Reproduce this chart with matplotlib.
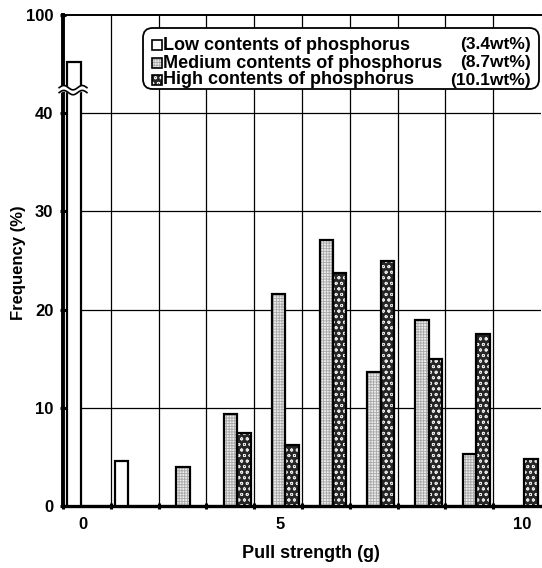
import numpy as np
import matplotlib
matplotlib.use("Agg")
import matplotlib.pyplot as plt
from matplotlib.patches import FancyBboxPatch, Rectangle

# pull strength bins (category index) and frequencies (%)
bins = np.arange(10)
low = [45.2, 4.6, 0, 0, 0, 0, 0, 0, 0, 0]        # first bar is broken (axis top = 100)
medium = [0, 0, 4.0, 9.4, 21.6, 27.1, 13.6, 18.9, 5.3, 0]
high = [0, 0, 0, 7.4, 6.2, 23.7, 25.0, 15.0, 17.5, 4.8]

series_names = ["Low contents of phosphorus",
                "Medium contents of phosphorus",
                "High contents of phosphorus"]
series_wt = ["(3.4wt%)", "(8.7wt%)", "(10.1wt%)"]

xtick_pos = [-0.08, 4.04, 9.1]
xtick_labels = ["0", "5", "10"]
ytick_pos = [0, 10, 20, 30, 40, 50]
ytick_labels = ["0", "10", "20", "30", "40", "100"]

plt.rcParams['font.family'] = ['Liberation Sans', 'DejaVu Sans']
plt.rcParams['font.weight'] = 'bold'
plt.rcParams['hatch.linewidth'] = 0.6

W, H = 542, 568
fig = plt.figure(figsize=(W / 100, H / 100), dpi=100)
L, R, T, B = 63, 541, 15, 506
ax = fig.add_axes([L / W, 1 - B / H, (R - L) / W, (B - T) / H])

ax.set_xlim(-0.5, 9.5)
ax.set_ylim(0, 50)

# grid
for xb in np.arange(0.5, 9.5, 1):
    ax.axvline(xb, color='black', lw=0.9, zorder=1)
for yg in [10, 20, 30, 40]:
    ax.axhline(yg, color='black', lw=0.9, zorder=1)

width = 0.28
styles = [
    dict(face='white', hcol='white', hatch=None),
    dict(face='#ececec', hcol='#a8a8a8', hatch='++++++'),
    dict(face='#262626', hcol='#e8e8e8', hatch='ooo'),
]
offsets = [-0.27, 0.01, 0.29]

for vals, st, off in zip([low, medium, high], styles, offsets):
    vals = np.array(vals, dtype=float)
    keep = vals > 0
    xs = bins[keep] + off
    ax.bar(xs, vals[keep], width=width, color=st['face'], edgecolor=st['hcol'],
           hatch=st['hatch'], linewidth=0, zorder=3)
    ax.bar(xs, vals[keep], width=width, fill=False, edgecolor='black',
           linewidth=1.6, zorder=4)

# axis break on the first bar
xw = np.linspace(-0.58, 0.0, 60)
yw = 42.1 + 0.22 * np.sin((xw + 0.58) / 0.58 * 3 * np.pi)
ax.fill_between(xw, yw, yw + 0.5, color='white', zorder=6, clip_on=False)
ax.plot(xw, yw, color='black', lw=1.2, zorder=7, clip_on=False)
ax.plot(xw, yw + 0.5, color='black', lw=1.2, zorder=7, clip_on=False)

# spines
ax.spines['right'].set_visible(False)
ax.spines['left'].set_linewidth(2.8)
ax.spines['bottom'].set_linewidth(2.4)
ax.spines['top'].set_linewidth(1.4)

ax.set_xticks(xtick_pos)
ax.set_xticklabels(xtick_labels)
ax.set_xticks(np.arange(-0.5, 9.5, 1), minor=True)
ax.tick_params(axis='x', which='major', length=0, pad=8, labelsize=12)
ax.tick_params(axis='x', which='minor', direction='inout', length=4, width=2.2)
ax.set_yticks(ytick_pos)
ax.set_yticklabels(ytick_labels)
ax.tick_params(axis='y', direction='inout', length=4, width=2.2, pad=5, labelsize=12)

ax.set_xlabel("Pull strength (g)", fontsize=13, fontweight='bold')
ax.xaxis.set_label_coords(0.519, -0.08)
ax.set_ylabel("Frequency (%)", fontsize=12, fontweight='bold')
ax.yaxis.set_label_coords(-0.077, 0.495)

# legend box
def axf(px, py):
    return (px - L) / (R - L), (B - py) / (B - T)

x0, y0 = axf(143, 89)
x1, y1 = axf(539, 28)
box = FancyBboxPatch((x0, y0), x1 - x0, y1 - y0, transform=ax.transAxes,
                     boxstyle="round,pad=0,rounding_size=0.02",
                     facecolor='white', edgecolor='black', lw=1.3, zorder=8,
                     clip_on=False)
ax.add_patch(box)

rows_py = [45, 63, 80]
for (name, wt, st, py) in zip(series_names, series_wt, styles, rows_py):
    sx0, sy0 = axf(152, py + 5)
    sx1, sy1 = axf(162, py - 5)
    ax.add_patch(Rectangle((sx0, sy0), sx1 - sx0, sy1 - sy0, transform=ax.transAxes,
                           facecolor=st['face'], edgecolor=st['hcol'],
                           hatch=st['hatch'], lw=0, zorder=9))
    ax.add_patch(Rectangle((sx0, sy0), sx1 - sx0, sy1 - sy0, transform=ax.transAxes,
                           fill=False, edgecolor='black', lw=1.2, zorder=10))
    tx, ty = axf(163, py)
    ax.text(tx, ty, name, transform=ax.transAxes, ha='left', va='center',
            fontsize=13, fontweight='bold', zorder=10)
    rx, _ = axf(531, py)
    ax.text(rx, ty, wt, transform=ax.transAxes, ha='right', va='center',
            fontsize=12.5, fontweight='bold', zorder=10)

fig.savefig("out.png", dpi=100)
